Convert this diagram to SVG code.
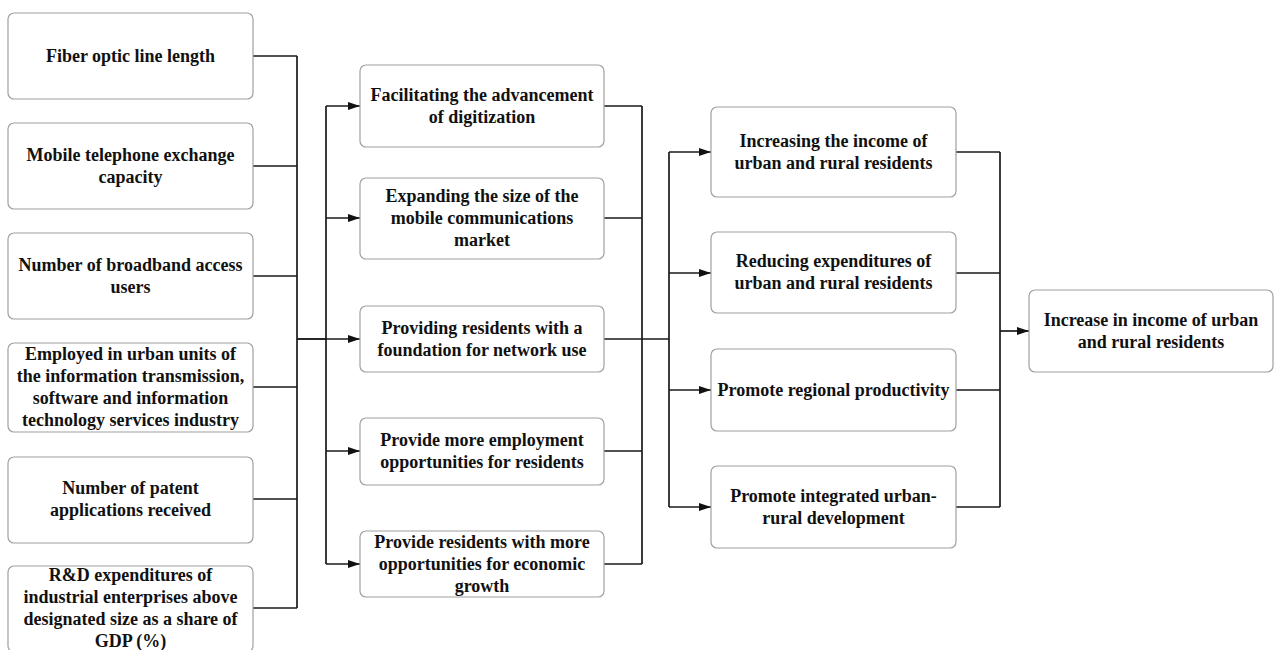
<svg xmlns="http://www.w3.org/2000/svg" width="1274" height="650" viewBox="0 0 1274 650">
  <style>
    .box { fill: #ffffff; stroke: #a0a0a0; stroke-width: 1.2; }
    .lbl { font-family: "Liberation Serif", "Times New Roman", serif; font-weight: bold; font-size: 18px; fill: #111111; text-anchor: middle; }
    .wire { fill: none; stroke: #1a1a1a; stroke-width: 1.7; }
    .arrow { fill: none; stroke: #1a1a1a; stroke-width: 1.7; marker-end: url(#head); }
  </style>
  <defs>
    <marker id="head" viewBox="0 0 12 8" refX="12" refY="4" markerWidth="12" markerHeight="8" markerUnits="userSpaceOnUse" orient="auto">
      <path d="M0,0 L12,4 L0,8 Z" fill="#111111"/>
    </marker>
  </defs>
  <rect width="1274" height="650" fill="#ffffff"/>

  <!-- connectors -->
  <g id="connectors">
    <!-- indicators into the first bus -->
    <path class="wire" d="M253,56 H297 M253,166 H297 M253,276 H297 M253,387 H297 M253,499 H297 M253,608 H297 M297,56 V608"/>
    <path class="wire" d="M297,339 H326 M326,106 V564"/>
    <path class="arrow" d="M326,106 H360"/>
    <path class="arrow" d="M326,218 H360"/>
    <path class="arrow" d="M297,339 H360"/>
    <path class="arrow" d="M326,451 H360"/>
    <path class="arrow" d="M326,564 H360"/>
    <!-- effects into the second bus -->
    <path class="wire" d="M604,106 H642 M604,218 H642 M604,339 H669 M604,451 H642 M604,564 H642 M642,106 V564"/>
    <path class="wire" d="M669,152 V507"/>
    <path class="arrow" d="M669,152 H711"/>
    <path class="arrow" d="M669,273 H711"/>
    <path class="arrow" d="M669,390 H711"/>
    <path class="arrow" d="M669,507 H711"/>
    <!-- outcomes into the final result -->
    <path class="wire" d="M956,152 H1000 M956,273 H1000 M956,390 H1000 M956,507 H1000 M1000,152 V507"/>
    <path class="arrow" d="M1000,331 H1029"/>
  </g>

  <!-- column 1: indicators -->
  <g id="fiber">
    <rect class="box" x="8" y="13" width="245" height="86" rx="6"/>
    <text class="lbl" x="130.5" y="62">Fiber optic line length</text>
  </g>
  <g id="mobile-exchange">
    <rect class="box" x="8" y="123" width="245" height="86" rx="6"/>
    <text class="lbl" x="130.5" y="161">Mobile telephone exchange<tspan x="130.5" dy="22">capacity</tspan></text>
  </g>
  <g id="broadband">
    <rect class="box" x="8" y="233" width="245" height="86" rx="6"/>
    <text class="lbl" x="130.5" y="271">Number of broadband access<tspan x="130.5" dy="22">users</tspan></text>
  </g>
  <g id="employed">
    <rect class="box" x="8" y="343" width="245" height="89" rx="6"/>
    <text class="lbl" x="130.5" y="360">Employed in urban units of<tspan x="130.5" dy="22">the information transmission,</tspan><tspan x="130.5" dy="22">software and information</tspan><tspan x="130.5" dy="22">technology services industry</tspan></text>
  </g>
  <g id="patents">
    <rect class="box" x="8" y="457" width="245" height="86" rx="6"/>
    <text class="lbl" x="130.5" y="494">Number of patent<tspan x="130.5" dy="22">applications received</tspan></text>
  </g>
  <g id="rd-share">
    <rect class="box" x="8" y="566" width="245" height="86" rx="6"/>
    <text class="lbl" x="130.5" y="581">R&amp;D expenditures of<tspan x="130.5" dy="22">industrial enterprises above</tspan><tspan x="130.5" dy="22">designated size as a share of</tspan><tspan x="130.5" dy="22">GDP (%)</tspan></text>
  </g>

  <!-- column 2: effects -->
  <g id="digitization">
    <rect class="box" x="360" y="65" width="244" height="82" rx="6"/>
    <text class="lbl" x="482" y="101">Facilitating the advancement<tspan x="482" dy="22">of digitization</tspan></text>
  </g>
  <g id="mobile-market">
    <rect class="box" x="360" y="178" width="244" height="81" rx="6"/>
    <text class="lbl" x="482" y="202">Expanding the size of the<tspan x="482" dy="22">mobile communications</tspan><tspan x="482" dy="22">market</tspan></text>
  </g>
  <g id="network-foundation">
    <rect class="box" x="360" y="306" width="244" height="66" rx="6"/>
    <text class="lbl" x="482" y="334">Providing residents with a<tspan x="482" dy="22">foundation for network use</tspan></text>
  </g>
  <g id="employment">
    <rect class="box" x="360" y="418" width="244" height="67" rx="6"/>
    <text class="lbl" x="482" y="446">Provide more employment<tspan x="482" dy="22">opportunities for residents</tspan></text>
  </g>
  <g id="economic-growth">
    <rect class="box" x="360" y="531" width="244" height="66" rx="6"/>
    <text class="lbl" x="482" y="548">Provide residents with more<tspan x="482" dy="22">opportunities for economic</tspan><tspan x="482" dy="22">growth</tspan></text>
  </g>

  <!-- column 3: outcomes -->
  <g id="income">
    <rect class="box" x="711" y="107" width="245" height="90" rx="6"/>
    <text class="lbl" x="833.5" y="147">Increasing the income of<tspan x="833.5" dy="22">urban and rural residents</tspan></text>
  </g>
  <g id="expenditures">
    <rect class="box" x="711" y="232" width="245" height="81" rx="6"/>
    <text class="lbl" x="833.5" y="267">Reducing expenditures of<tspan x="833.5" dy="22">urban and rural residents</tspan></text>
  </g>
  <g id="productivity">
    <rect class="box" x="711" y="349" width="245" height="82" rx="6"/>
    <text class="lbl" x="833.5" y="396">Promote regional productivity</text>
  </g>
  <g id="urban-rural">
    <rect class="box" x="711" y="466" width="245" height="82" rx="6"/>
    <text class="lbl" x="833.5" y="502">Promote integrated urban-<tspan x="833.5" dy="22">rural development</tspan></text>
  </g>

  <!-- result -->
  <g id="result">
    <rect class="box" x="1029" y="290" width="244" height="82" rx="6"/>
    <text class="lbl" x="1151" y="326">Increase in income of urban<tspan x="1151" dy="22">and rural residents</tspan></text>
  </g>
</svg>
